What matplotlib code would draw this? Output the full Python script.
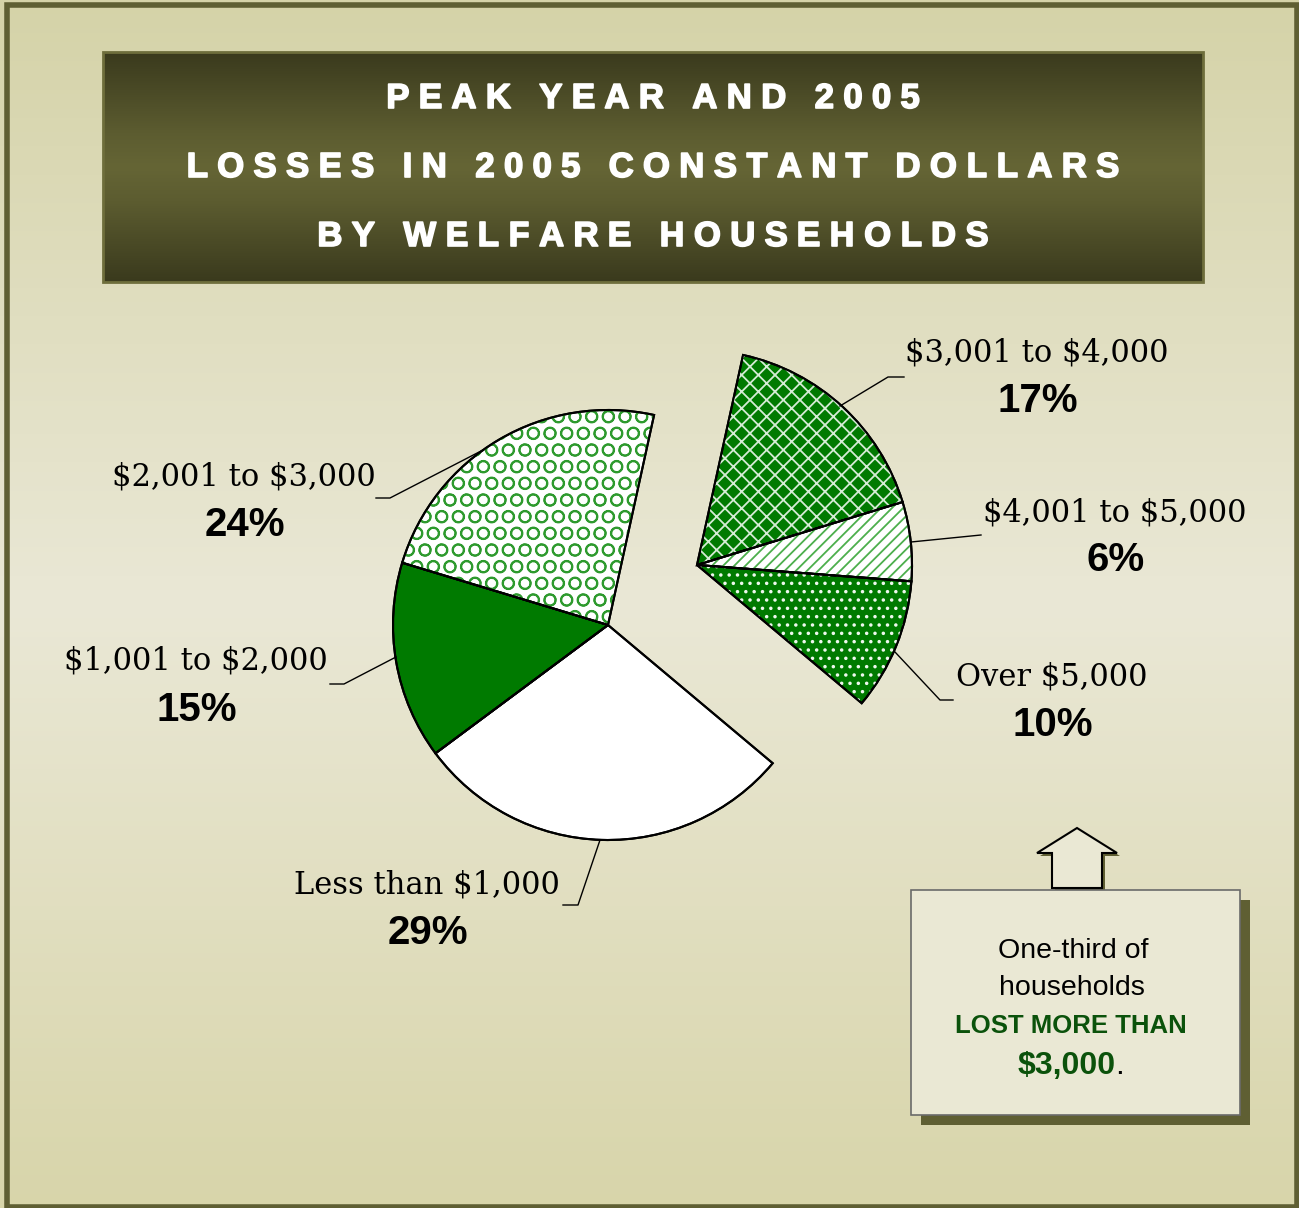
import numpy as np
import matplotlib.pyplot as plt
import matplotlib.patheffects as pe
from matplotlib.patches import Wedge, Rectangle, Polygon
from matplotlib.colors import LinearSegmentedColormap
from matplotlib.font_manager import FontProperties

# data
labels = ['Less than $1,000', '$1,001 to $2,000', '$2,001 to $3,000',
          '$3,001 to $4,000', '$4,001 to $5,000', 'Over $5,000']
shares = [29, 15, 24, 17, 6, 10]
title_lines = ['PEAK YEAR AND 2005',
               'LOSSES IN 2005 CONSTANT DOLLARS',
               'BY WELFARE HOUSEHOLDS']
note_lines = ['One-third of', 'households', 'LOST MORE THAN', '$3,000']

fill_colors = ['white', '#007A00', 'white', '#007A00', 'white', '#007A00']
hatches = [None, None, 'O', 'xx', '///', '..']
hatch_colors = [None, None, '#2E9A2E', '#D5ECD5', '#4CAF4C', '#EEF8EE']
exploded = [False, False, False, True, True, True]

W, H = 1299, 1208
OLIVE = '#5F5F33'
plt.rcParams['hatch.linewidth'] = 1.3
plt.rcParams['text.parse_math'] = False


def Y(y):
    # image row -> data y
    return H - y


fig = plt.figure(figsize=(W / 100, H / 100), dpi=100)
ax = fig.add_axes([0, 0, 1, 1])

# background gradient
t = np.linspace(0, 1, 256)
bg = LinearSegmentedColormap.from_list('bg', [(0, '#D5D3A8'), (0.5, '#EAE8D6'), (1, '#D8D5AA')])
ax.imshow(t[:, None], cmap=bg, extent=(0, W, 0, H), aspect='auto', zorder=0)
ax.add_patch(Rectangle((7, Y(1207)), 1290, 1202, fill=False, ec=OLIVE, lw=4, zorder=1))

# title box
tb = LinearSegmentedColormap.from_list('tb', [(0, '#3A3A1D'), (0.35, '#5C5C30'), (0.5, '#656535'),
                                              (0.65, '#5C5C30'), (1, '#3A3A1D')])
ax.imshow(t[:, None], cmap=tb, extent=(103, 1203, Y(282), Y(52)), aspect='auto', zorder=2)
ax.add_patch(Rectangle((103, Y(282)), 1100, 230, fill=False, ec='#6E6E3C', lw=2, zorder=2.1))

renderer = fig.canvas.get_renderer()
title_fp = FontProperties(family='Liberation Sans', weight='bold', size=25)


def char_w(ch, fp):
    if ch == ' ':
        return fp.get_size_in_points() * 100 / 72 * 0.28
    w, h, d = renderer.get_text_width_height_descent(ch, fp, ismath=False)
    return w


def tracked_text(s, cx, base, fp, track):
    widths = [char_w(c, fp) for c in s]
    total = sum(widths) + track * (len(s) - 1)
    x = cx - total / 2
    for c, w in zip(s, widths):
        if c != ' ':
            ax.text(x + w / 2, Y(base), c, ha='center', va='baseline',
                    fontproperties=fp, color='white', zorder=3,
                    path_effects=[pe.withStroke(linewidth=1.2, foreground='white')])
        x += w + track


for line, base in zip(title_lines, [108, 177, 246]):
    tracked_text(line, 653, base, title_fp, 9.3)

# pie
wedges, _ = ax.pie(shares, startangle=-40, counterclock=False, radius=215,
                   center=(608, Y(625)), colors=fill_colors, frame=True,
                   wedgeprops=dict(edgecolor='black', linewidth=1.5))
for w, ex in zip(wedges, exploded):
    if ex:
        w.set_center((697, Y(565)))
for w, h, hc in zip(wedges, hatches, hatch_colors):
    if h:
        ax.add_patch(Wedge(w.center, w.r, w.theta1, w.theta2, facecolor='none',
                           edgecolor=hc, linewidth=0, hatch=h, zorder=w.get_zorder() + 0.1))
    ax.add_patch(Wedge(w.center, w.r, w.theta1, w.theta2, facecolor='none',
                       edgecolor='black', linewidth=1.5, zorder=w.get_zorder() + 0.2))

# labels and leader lines
label_pos = [(427, 893, 944), (196, 669, 721), (244, 485, 536),
             (1037, 361, 412), (1115, 521, 571), (1052, 686, 736)]
leaders = [[(600, 840), (578, 905), (563, 905)],
           [(396, 657), (344, 684), (330, 684)],
           [(483, 450), (390, 498), (376, 498)],
           [(840, 406), (888, 377), (904, 377)],
           [(911, 542), (981, 535)],
           [(895, 652), (940, 700), (953, 700)]]
for lab, s, (cx, b1, b2), pts in zip(labels, shares, label_pos, leaders):
    ax.text(cx, Y(b1), lab, ha='center', va='baseline', family='DejaVu Serif',
            fontsize=22, color='black', zorder=5)
    ax.text(cx + 1, Y(b2), f'{s}%', ha='center', va='baseline', family='Liberation Sans',
            weight='bold', fontsize=29, color='black', zorder=5)
    xs, ys = zip(*pts)
    ax.plot(xs, [Y(v) for v in ys], color='black', lw=1, zorder=4)

# callout box with arrow
ax.add_patch(Rectangle((921, Y(1125)), 329, 225, fc=OLIVE, ec='none', zorder=3))
ax.add_patch(Rectangle((911, Y(1115)), 329, 225, fc='#EAE8D4', ec='#6A6A6A', lw=1.2, zorder=3.1))
arrow = [(1052, 888), (1052, 853), (1037, 853), (1077, 828), (1117, 853), (1102, 853), (1102, 888)]
ax.add_patch(Polygon([(x + 3, Y(y + 3)) for x, y in arrow], closed=True, fc=OLIVE, ec='none', zorder=3))
ax.add_patch(Polygon([(x, Y(y)) for x, y in arrow], closed=True, fc='#EAE8D4', ec='black',
                     lw=1.5, zorder=3.2))

ax.text(1073, Y(958), note_lines[0], ha='center', va='baseline', family='Liberation Sans',
        fontsize=20.5, color='black', zorder=5)
ax.text(1072, Y(995), note_lines[1], ha='center', va='baseline', family='Liberation Sans',
        fontsize=20.5, color='black', zorder=5)
ax.text(1071, Y(1033), note_lines[2], ha='center', va='baseline', family='Liberation Sans',
        weight='bold', fontsize=18.5, color='#0B520B', zorder=5)
ax.text(1067, Y(1074), note_lines[3], ha='center', va='baseline', family='Liberation Sans',
        weight='bold', fontsize=23, color='#0B520B', zorder=5)
ax.text(1115, Y(1074), '.', ha='left', va='baseline', family='Liberation Sans',
        fontsize=23, color='black', zorder=5)

ax.set_xlim(0, W)
ax.set_ylim(0, H)
ax.set_aspect('auto')
ax.axis('off')

fig.savefig('out.png', dpi=100)
